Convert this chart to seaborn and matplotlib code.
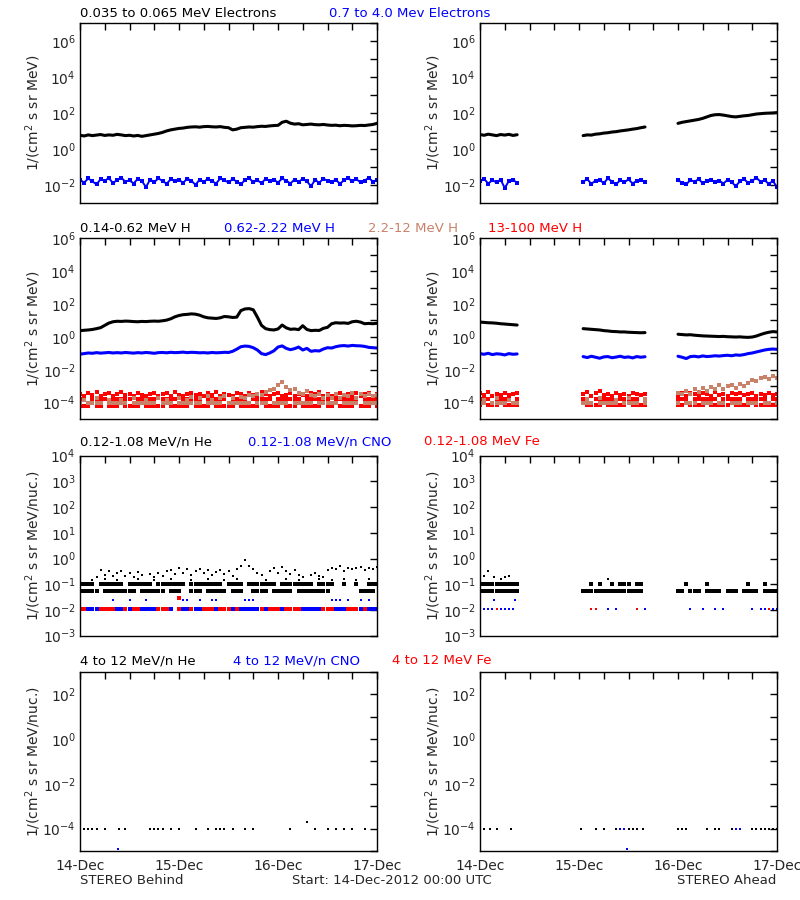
import numpy as np
import pandas as pd
import matplotlib
matplotlib.use("Agg")
import matplotlib.pyplot as plt
import seaborn as sns

BLUE = "#0000ff"
RED = "#ff0000"
BROWN = "#c8826a"

# time axis in hours from 14-Dec-2012 00:00 UTC
hours_b = list(range(73))
hours_a = list(range(0, 10)) + list(range(25, 41)) + list(range(48, 73))
day_labels = ["14-Dec", "15-Dec", "16-Dec", "17-Dec"]

# ---- row 1: electrons (log10 flux) ----
b_e_lo = [0.78, 0.74, 0.80, 0.76, 0.79, 0.82, 0.77, 0.80, 0.78, 0.83, 0.80, 0.76, 0.78, 0.74, 0.77, 0.72, 0.76, 0.80, 0.84, 0.88, 0.94, 1.02, 1.08, 1.12, 1.16,
          1.18, 1.22, 1.24, 1.25, 1.23, 1.26, 1.27, 1.25, 1.24, 1.26, 1.22, 1.20,
          1.08, 1.12, 1.20, 1.22, 1.24, 1.23, 1.26, 1.28, 1.27, 1.30, 1.32, 1.33,
          1.50, 1.56, 1.45, 1.40, 1.42, 1.36, 1.38, 1.40, 1.37, 1.36, 1.38, 1.35,
          1.33, 1.34, 1.31, 1.33, 1.32, 1.30, 1.31, 1.33, 1.32, 1.35, 1.38, 1.44]
b_e_hi = [-1.70, -1.85, -1.62, -1.78, -1.95, -1.66, -1.74, -1.60, -1.88, -1.70, -1.58, -1.80, -1.72, -1.90, -1.64, -1.76, -2.10, -1.68, -1.82, -1.62, -1.75, -1.92, -1.66, -1.78, -1.70,
          -1.86, -1.63, -1.74, -1.98, -1.68, -1.80, -1.65, -1.77, -1.90, -1.62, -1.73, -1.84,
          -1.66, -1.79, -1.95, -1.70, -1.60, -1.83, -1.72, -1.88, -1.64, -1.76, -1.69, -1.85,
          -1.62, -1.74, -1.90, -1.68, -1.80, -1.65, -1.78, -2.05, -1.70, -1.86, -1.63, -1.75,
          -1.82, -1.68, -1.92, -1.72, -1.60, -1.78, -1.66, -1.84, -1.74, -1.58, -1.80, -1.70]
a_e_lo = [0.82, 0.78, 0.84, 0.80, 0.76, 0.82, 0.79, 0.83, 0.77, 0.81,
          0.76, 0.80, 0.79, 0.84, 0.86, 0.90, 0.92, 0.96, 0.98, 1.02, 1.05, 1.08, 1.12, 1.15, 1.20, 1.24,
          1.44, 1.50, 1.54, 1.58, 1.62, 1.66, 1.72, 1.80, 1.88, 1.92, 1.93, 1.90, 1.86, 1.82, 1.80, 1.83,
          1.86, 1.88, 1.92, 1.96, 1.98, 2.00, 2.01, 2.02, 2.04]
a_e_hi = [-1.78, -1.65, -1.90, -1.72, -1.84, -1.68, -2.15, -1.76, -1.70, -1.86,
          -1.80, -1.66, -1.92, -1.74, -1.70, -1.88, -1.62, -1.79, -1.95, -1.71, -1.83, -1.67, -1.90, -1.75, -1.69, -1.82,
          -1.72, -1.85, -1.95, -1.70, -1.80, -1.66, -1.88, -1.76, -1.68, -1.84, -1.74, -1.90, -1.70, -1.82, -2.05, -1.78,
          -1.66, -1.86, -1.75, -1.58, -1.80, -1.72, -1.92, -1.76, -2.10]

# ---- row 2: protons ----
b_h_lo = [0.38, 0.40, 0.42, 0.45, 0.50, 0.56, 0.70, 0.84, 0.92, 0.95,
          0.94, 0.96, 0.95, 0.93, 0.92, 0.94, 0.93, 0.95, 0.96, 0.95,
          0.98, 1.02, 1.10, 1.22, 1.30, 1.35, 1.37, 1.40, 1.38, 1.32,
          1.22, 1.16, 1.14, 1.12, 1.16, 1.24, 1.22, 1.18, 1.20, 1.60,
          1.70, 1.72, 1.65, 1.20, 0.70, 0.50, 0.44, 0.42, 0.48, 0.72,
          0.55, 0.46, 0.48, 0.44, 0.68, 0.45, 0.38, 0.40, 0.39, 0.52,
          0.58, 0.80, 0.86, 0.84, 0.85, 0.82, 0.92, 0.95, 0.90, 0.80,
          0.82, 0.80, 0.83]
b_h_mid = [-1.05, -1.02, -0.98, -1.00, -0.96, -0.99, -0.97, -0.95, -0.98, -0.96,
           -0.98, -0.95, -0.97, -0.99, -0.96, -0.98, -0.95, -0.97, -1.00, -0.96,
           -0.95, -0.97, -0.94, -0.96, -0.95, -0.93, -0.96, -0.94, -0.95, -0.97,
           -0.96, -0.98, -0.95, -0.97, -0.96, -0.94, -0.95, -0.88, -0.75, -0.60,
           -0.56, -0.58, -0.66, -0.80, -1.02, -1.08, -0.98, -0.85, -0.62, -0.55,
           -0.70, -0.78, -0.72, -0.62, -0.80, -0.70, -0.88, -0.84, -0.86, -0.74,
           -0.66, -0.68, -0.60, -0.55, -0.53, -0.56, -0.52, -0.54, -0.55, -0.58,
           -0.64, -0.66, -0.68]
b_hh_top = [None, -3.85, None, None, -3.70, None, None, -3.85, None, None,
            -3.85, None, None, -3.70, None, None, -3.85, None, None, -3.70,
            None, -3.85, None, None, -3.70, None, -3.85, -3.65, None, -3.70,
            None, -3.60, -3.85, None, -3.70, -3.62, None, -3.75, None, -3.65,
            -3.70, -3.55, -3.62, -3.45, -3.55, -3.35, -3.25, -3.15, -2.95, -2.72,
            -3.05, -3.25, -3.15, -3.40, -3.50, -3.30, -3.55, -3.62, -3.45, -3.70,
            -3.55, -3.70, -3.45, -3.75, -3.55, -3.62, -3.40, -3.70, -3.50, -3.60,
            -3.45, -3.60, -3.52]
b_hh_base = [-4.02, None, -4.02, -4.02, -4.02, -4.02, None, -4.02, -4.02, -4.02,
             -4.02, -4.02, None, -4.02, -4.02, -4.02, -4.02, -4.02, -4.02, None,
             -4.02, -4.02, -4.02, None, -4.02, -4.02, -4.02, -4.02, -4.02, -4.02,
             None, -4.02, -4.02, -4.02, -4.02, None, -4.02, -4.02, -4.02, -4.02,
             -4.02, -4.02, None, -4.02, -4.02, -4.02, None, -4.02, -4.02, -4.02,
             -4.02, None, -4.02, -4.02, -4.02, -4.02, -4.02, None, -4.02, -4.02,
             -4.02, -4.02, -4.02, None, -4.02, -4.02, -4.02, -4.02, None, -4.02,
             -4.02, -4.02, -4.02]
b_p_top = [-3.45, -3.58, -3.40, -3.52, -3.36, -3.58, -3.48, -3.42, -3.58, -3.50,
           -3.38, -3.55, -3.45, -3.58, -3.40, -3.52, -3.58, -3.46, -3.40, -3.58,
           -3.50, -3.44, -3.58, -3.38, -3.52, -3.58, -3.45, -3.40, -3.56, -3.48,
           -3.58, -3.42, -3.52, -3.36, -3.58, -3.46, -3.54, -3.58, -3.40, -3.50,
           -3.58, -3.44, -3.52, -3.58, -3.38, -3.50, -3.58, -3.46, -3.42, -3.58,
           -3.52, -3.40, -3.58, -3.48, -3.55, -3.58, -3.44, -3.50, -3.38, -3.58,
           -3.46, -3.58, -3.52, -3.40, -3.58, -3.48, -3.56, -3.42, -3.58, -3.50,
           -3.44, -3.58, -3.48]
b_p_f1 = [-3.78, -3.78, None, -3.78, -3.78, -3.78, -3.78, None, -3.78, -3.78,
          -3.78, -3.78, -3.78, None, -3.78, -3.78, -3.78, -3.78, -3.78, None,
          -3.78, -3.78, -3.78, -3.78, None, -3.78, -3.78, -3.78, -3.78, -3.78,
          None, -3.78, -3.78, -3.78, -3.78, -3.78, None, -3.78, -3.78, -3.78,
          -3.78, None, -3.78, -3.78, -3.78, -3.78, -3.78, None, -3.78, -3.78,
          -3.78, -3.78, -3.78, -3.78, None, -3.78, -3.78, -3.78, -3.78, -3.78,
          -3.78, None, -3.78, -3.78, -3.78, -3.78, -3.78, -3.78, None, -3.78,
          -3.78, -3.78, -3.78]
b_p_f2 = [-4.20, -4.20, -4.20, None, -4.20, -4.20, None, -4.20, -4.20, -4.20,
          None, -4.20, -4.20, -4.20, -4.20, None, -4.20, -4.20, -4.20, -4.20,
          -4.20, None, -4.20, -4.20, -4.20, -4.20, -4.20, None, -4.20, -4.20,
          -4.20, -4.20, None, -4.20, -4.20, -4.20, -4.20, -4.20, None, -4.20,
          -4.20, -4.20, -4.20, -4.20, None, -4.20, -4.20, -4.20, -4.20, None,
          -4.20, -4.20, -4.20, None, -4.20, -4.20, -4.20, -4.20, -4.20, None,
          -4.20, -4.20, None, -4.20, -4.20, -4.20, -4.20, None, -4.20, -4.20,
          -4.20, None, -4.20]

a_h_lo = [0.90, 0.88, 0.86, 0.85, 0.83, 0.80, 0.78, 0.76, 0.74, 0.72,
          0.50, 0.48, 0.46, 0.44, 0.42, 0.38, 0.36, 0.33, 0.32, 0.30, 0.30, 0.28, 0.27, 0.26, 0.25, 0.26,
          0.16, 0.14, 0.12, 0.13, 0.10, 0.08, 0.06, 0.05, 0.04, 0.03, 0.02, 0.03, 0.01, 0.00, -0.01, 0.00,
          -0.02, -0.03, -0.01, 0.05, 0.14, 0.22, 0.28, 0.32, 0.30]
a_h_mid = [-1.02, -1.06, -1.00, -1.08, -1.03, -1.05, -1.10, -1.02, -1.06, -1.04,
           -1.20, -1.26, -1.18, -1.24, -1.30, -1.22, -1.20, -1.27, -1.23, -1.18, -1.25, -1.22, -1.28, -1.20, -1.24, -1.21,
           -1.18, -1.24, -1.32, -1.20, -1.18, -1.22, -1.16, -1.20, -1.18, -1.15, -1.17, -1.14, -1.12, -1.15, -1.10, -1.12,
           -1.08, -1.02, -0.98, -0.92, -0.86, -0.80, -0.76, -0.74, -0.76]
a_hh_top = [None, -3.85, None, None, -3.70, None, None, -3.85, None, None,
            None, -3.80, None, None, -3.70, None, None, None, -3.85, None, None, -3.75, None, None, None, -3.80,
            -3.40, -3.50, -3.30, -3.45, -3.20, -3.35, -3.10, -3.30, -3.05, -3.20, -2.95, -3.15, -3.00, -2.90, -3.10, -2.85,
            -3.00, -2.80, -2.60, -2.70, -2.50, -2.45, -2.55, -2.40, -2.50]
a_hh_base = [-4.02, -4.02, None, -4.02, -4.02, -4.02, -4.02, None, -4.02, -4.02,
             -4.02, -4.02, -4.02, None, -4.02, -4.02, -4.02, -4.02, -4.02, None, -4.02, -4.02, -4.02, -4.02, None, -4.02,
             -4.02, None, -4.02, -4.02, -4.02, None, -4.02, -4.02, -4.02, None, -4.02, -4.02, None, -4.02, -4.02, -4.02,
             None, -4.02, -4.02, -4.02, None, -4.02, -4.02, None, -4.02]
a_p_top = [-3.42, -3.55, -3.38, -3.58, -3.46, -3.52, -3.40, -3.56, -3.48, -3.44,
           -3.50, -3.36, -3.58, -3.44, -3.30, -3.52, -3.46, -3.58, -3.40, -3.54, -3.48, -3.58, -3.42, -3.50, -3.56, -3.46,
           -3.52, -3.44, -3.58, -3.40, -3.50, -3.56, -3.42, -3.48, -3.58, -3.38, -3.52, -3.46, -3.58, -3.44, -3.50, -3.40,
           -3.56, -3.48, -3.42, -3.58, -3.46, -3.52, -3.40, -3.56, -3.48]
a_p_f1 = [-3.78, -3.78, -3.78, None, -3.78, -3.78, -3.78, -3.78, None, -3.78,
          -3.78, -3.78, None, -3.78, -3.78, -3.78, -3.78, -3.78, None, -3.78, -3.78, -3.78, -3.78, -3.78, None, -3.78,
          -3.78, -3.78, -3.78, None, -3.78, -3.78, -3.78, -3.78, -3.78, -3.78, None, -3.78, -3.78, -3.78, -3.78, -3.78,
          None, -3.78, -3.78, -3.78, -3.78, -3.78, None, -3.78, -3.78]
a_p_f2 = [-4.16, None, -4.16, -4.16, -4.16, None, -4.16, -4.16, -4.16, -4.16,
          None, -4.16, -4.16, -4.16, -4.16, None, -4.16, -4.16, -4.16, -4.16, -4.16, None, -4.16, -4.16, -4.16, -4.16,
          -4.16, -4.16, None, -4.16, -4.16, -4.16, -4.16, None, -4.16, -4.16, -4.16, -4.16, -4.16, None, -4.16, -4.16,
          -4.16, -4.16, None, -4.16, -4.16, -4.16, -4.16, -4.16, -4.16]

# ---- row 3: 0.12-1.08 MeV/n ions ----
b_he_01 = [-1.00, -1.00, -1.00, -1.00, None, -1.00, -1.00, -1.00, -1.00, -1.00,
           -1.00, None, -1.00, -1.00, -1.00, -1.00, -1.00, -1.00, None, -1.00,
           -1.00, -1.00, -1.00, -1.00, -1.00, -1.00, None, -1.00, -1.00, -1.00,
           -1.00, -1.00, -1.00, -1.00, -1.00, None, -1.00, -1.00, -1.00, -1.00,
           None, -1.00, -1.00, -1.00, -1.00, -1.00, -1.00, -1.00, None, -1.00,
           -1.00, -1.00, -1.00, -1.00, -1.00, -1.00, -1.00, None, -1.00, -1.00,
           -1.00, -1.00, None, None, -1.00, None, None, -1.00, None, None,
           -1.00, -1.00, -1.00]
b_he_005 = [-1.27, -1.27, -1.27, -1.27, -1.27, None, -1.27, -1.27, -1.27, -1.27,
            -1.27, -1.27, -1.27, -1.27, None, -1.27, -1.27, -1.27, -1.27, -1.27,
            -1.27, None, -1.27, -1.27, -1.27, None, None, -1.27, -1.27, -1.27,
            None, -1.27, -1.27, -1.27, -1.27, -1.27, None, -1.27, -1.27, -1.27,
            None, None, -1.27, -1.27, -1.27, -1.27, None, -1.27, -1.27, -1.27,
            -1.27, -1.27, None, -1.27, -1.27, -1.27, -1.27, -1.27, -1.27, -1.27,
            -1.27, None, None, None, None, None, None, None, -1.27, -1.27,
            -1.27, -1.27, None]
b_he_up = [None, None, None, None, -0.70, -0.45, -0.62, -0.50, -0.68, -0.55,
           -0.48, -0.66, -0.58, -0.72, -0.52, -0.64, None, -0.60, -0.70, -0.56,
           -0.66, -0.50, -0.45, -0.60, -0.38, -0.55, -0.42, -0.62, -0.48, -0.40,
           -0.58, -0.46, -0.64, -0.52, -0.44, -0.60, -0.50, -0.66, -0.42, -0.30,
           -0.05, -0.28, -0.40, -0.56, -0.64, None, -0.50, -0.38, -0.55, -0.32,
           -0.48, -0.60, -0.45, -0.65, -0.70, None, -0.62, -0.58, -0.66, -0.70,
           -0.45, -0.36, -0.40, -0.30, -0.48, -0.35, -0.42, -0.38, -0.32, -0.44,
           -0.36, -0.40, -0.34]
b_he_mid_hours = [3, 6, 9, 14, 18, 22, 27, 31, 35, 38, 45, 50, 53, 58, 61, 64, 67, 70]
b_he_mid = [-0.82, -0.80, -0.84, -0.80, -0.82, -0.78, -0.82, -0.80, -0.84, -0.80, -0.82, -0.78, -0.82, -0.80, -0.84, -0.80, -0.82, -0.80]
b_cno_01 = [-1.95, -1.95, -1.95, -1.95, -1.95, -1.95, -1.95, -1.95, -1.95, -1.95,
            -1.95, -1.95, -1.95, -1.95, -1.95, -1.95, -1.95, -1.95, -1.95, -1.95,
            -1.95, -1.95, -1.95, None, -1.95, -1.95, -1.95, -1.95, -1.95, -1.95,
            -1.95, -1.95, -1.95, -1.95, -1.95, -1.95, -1.95, -1.95, -1.95, -1.95,
            -1.95, -1.95, -1.95, -1.95, -1.95, -1.95, -1.95, -1.95, -1.95, -1.95,
            -1.95, -1.95, -1.95, -1.95, -1.95, -1.95, -1.95, -1.95, -1.95, -1.95,
            -1.95, -1.95, -1.95, -1.95, -1.95, -1.95, -1.95, -1.95, -1.95, -1.95,
            -1.95, -1.95, -1.95]
b_cno_up_hours = [8, 12, 16, 25, 26, 29, 32, 33, 40, 41, 42, 61, 62, 63, 65, 68, 70]
b_cno_up = [-1.62, -1.62, -1.62, -1.62, -1.62, -1.62, -1.62, -1.62, -1.62, -1.62, -1.62, -1.62, -1.62, -1.62, -1.62, -1.62, -1.62]
b_fe_hours = [0, 1, 5, 6, 7, 8, 11, 13, 14, 19, 20, 21, 24, 27, 30, 31, 32, 34, 35, 36, 38, 44, 46, 47, 48, 50, 51, 52, 53, 59, 60, 61, 65, 66, 67, 69, 24]
b_fe = [-1.95, -1.95, -1.95, -1.95, -1.95, -1.95, -1.95, -1.95, -1.95, -1.95, -1.95, -1.95, -1.95, -1.95, -1.95, -1.95, -1.95, -1.95, -1.95,
        -1.95, -1.95, -1.95, -1.95, -1.95, -1.95, -1.95, -1.95, -1.95, -1.95, -1.95, -1.95, -1.95, -1.95, -1.95, -1.95, -1.95, -1.55]

a_he_01 = [-1.00, -1.00, -1.00, -1.00, -1.00, -1.00, -1.00, -1.00, -1.00, -1.00,
           None, None, -1.00, None, -1.00, None, None, -1.00, None, -1.00, -1.00, -1.00, None, -1.00, -1.00, None,
           None, None, -1.00, None, None, None, None, -1.00, None, None, None, None, None, None, None, None,
           None, -1.00, None, None, None, -1.00, None, None, None]
a_he_005 = [-1.27, -1.27, -1.27, -1.27, -1.27, -1.27, -1.27, -1.27, -1.27, -1.27,
            -1.27, -1.27, -1.27, -1.27, -1.27, -1.27, -1.27, -1.27, -1.27, -1.27, -1.27, -1.27, -1.27, -1.27, -1.27, None,
            -1.27, -1.27, None, -1.27, -1.27, -1.27, None, -1.27, -1.27, -1.27, -1.27, None, -1.27, -1.27, -1.27, None,
            -1.27, -1.27, -1.27, -1.27, None, -1.27, -1.27, -1.27, -1.27]
a_he_up_hours = [1, 2, 3.5, 5, 6, 7, 31]
a_he_up = [-0.67, -0.47, -0.70, -0.80, -0.72, -0.67, -0.80]
a_cno_hours = [1, 2, 3, 4, 5, 6, 7, 8, 31, 33, 40, 51, 54, 57, 59, 66, 68, 69, 70, 71, 72, 3.5, 8.5]
a_cno = [-1.95, -1.95, -1.95, -1.95, -1.95, -1.95, -1.95, -1.95, -1.95, -1.95, -1.95, -1.95, -1.95, -1.95, -1.95, -1.95,
         -1.95, -1.95, -1.95, -1.95, -1.95, -1.62, -1.62]
a_fe_hours = [0, 4, 27, 28, 38, 70]
a_fe = [-1.95, -1.95, -1.95, -1.95, -1.95, -1.95]

# ---- row 4: 4-12 MeV/n ions ----
b_he4_hours = [1, 2, 3, 4, 6, 9.5, 11, 17, 18, 19, 20, 22, 24, 28, 31, 33, 34, 35, 37, 40, 42, 51, 55, 57, 60, 62, 64, 66, 69]
b_he4 = [-4.0, -4.0, -4.0, -4.0, -4.0, -4.0, -4.0, -4.0, -4.0, -4.0, -4.0, -4.0, -4.0, -4.0, -4.0, -4.0, -4.0, -4.0, -4.0, -4.0,
         -4.0, -4.0, -3.70, -4.0, -4.0, -4.0, -4.0, -4.0, -4.0]
b_cno4_hours = [9.3]
b_cno4 = [-4.92]
a_he4_hours = [1, 2.5, 4, 7.5, 24.5, 28, 30, 33, 36, 37, 38, 39.5, 48, 49, 50, 55, 57, 58, 61, 66, 67, 68, 69, 70, 71, 72]
a_he4 = [-4.0, -4.0, -4.0, -4.0, -4.0, -4.0, -4.0, -4.0, -4.0, -4.0, -4.0, -4.0, -4.0, -4.0, -4.0, -4.0, -4.0, -4.0, -4.0,
         -4.0, -4.0, -4.0, -4.0, -4.0, -4.0, -4.0]
a_cno4_hours = [34, 35, 62, 63, 35.6]
a_cno4 = [-4.0, -4.0, -4.0, -4.0, -4.92]


def frame(hours, logs):
    df = pd.DataFrame({"hour": np.asarray(hours, float),
                       "flux": 10 ** np.asarray(logs, float)})
    df["seg"] = (df["hour"].diff() > 1.5).cumsum() + df["flux"].isna().cumsum()
    return df.dropna()


def trace(ax, hours, logs, color, lw, **kw):
    sns.lineplot(data=frame(hours, logs), x="hour", y="flux", units="seg",
                 estimator=None, sort=False, color=color, lw=lw, ax=ax,
                 legend=False, **kw)


def dots(ax, hours, logs, color, s=5):
    sns.scatterplot(data=frame(hours, logs), x="hour", y="flux", color=color,
                    marker="s", s=s, linewidth=0, ax=ax, legend=False)


sns.set_style("white")
plt.rcParams["font.family"] = ["DejaVu Sans"]
plt.rcParams["mathtext.default"] = "regular"

fig = plt.figure(figsize=(8, 9), dpi=100)

rows_px = [(23.3, 203.3), (238.3, 419.0), (455.7, 635.7), (671.7, 851.0)]
yrange = [(-3, 7), (-5, 6), (-3, 4), (-5, 3)]
ylabeled = [[-2, 0, 2, 4, 6], [-4, -2, 0, 2, 4, 6], [-3, -2, -1, 0, 1, 2, 3, 4], [-4, -2, 0, 2]]
ylabels = ["1/(cm$^2$ s sr MeV)", "1/(cm$^2$ s sr MeV)",
           "1/(cm$^2$ s sr MeV/nuc.)", "1/(cm$^2$ s sr MeV/nuc.)"]

axes = []
for r, (top, bot) in enumerate(rows_px):
    row = []
    for c in range(2):
        ax = fig.add_axes([(80 + 400 * c) / 800, 1 - bot / 900, 297 / 800, (bot - top) / 900])
        ax.set_yscale("log")
        row.append(ax)
    axes.append(row)

# row 1
trace(axes[0][0], hours_b, b_e_lo, "black", 2.2)
trace(axes[0][0], hours_b, b_e_hi, BLUE, 1.4, marker="s", markersize=2.5, mew=0)
trace(axes[0][1], hours_a, a_e_lo, "black", 2.2)
trace(axes[0][1], hours_a, a_e_hi, BLUE, 1.4, marker="s", markersize=2.5, mew=0)

# row 2
for ax, lo, mid, hh_top, hh_base, p_top, p_f1, p_f2, hrs in [
        (axes[1][0], b_h_lo, b_h_mid, b_hh_top, b_hh_base, b_p_top, b_p_f1, b_p_f2, hours_b),
        (axes[1][1], a_h_lo, a_h_mid, a_hh_top, a_hh_base, a_p_top, a_p_f1, a_p_f2, hours_a)]:
    dots(ax, hrs, p_f2, RED)
    dots(ax, hrs, hh_base, BROWN)
    dots(ax, hrs, p_f1, RED)
    dots(ax, hrs, p_top, RED)
    dots(ax, hrs, hh_top, BROWN)
    trace(ax, hrs, lo, "black", 2.2)
    trace(ax, hrs, mid, BLUE, 2.2)

# row 3
ax = axes[2][0]
dots(ax, hours_b, b_cno_01, BLUE)
dots(ax, b_fe_hours, b_fe, RED)
dots(ax, b_cno_up_hours, b_cno_up, BLUE, s=4)
dots(ax, hours_b, b_he_005, "black")
dots(ax, hours_b, b_he_01, "black")
dots(ax, b_he_mid_hours, b_he_mid, "black", s=3)
dots(ax, hours_b, b_he_up, "black", s=3)
ax = axes[2][1]
dots(ax, a_cno_hours, a_cno, BLUE, s=4)
dots(ax, a_fe_hours, a_fe, RED, s=4)
dots(ax, hours_a, a_he_005, "black")
dots(ax, hours_a, a_he_01, "black")
dots(ax, a_he_up_hours, a_he_up, "black", s=3)

# row 4
dots(axes[3][0], b_he4_hours, b_he4, "black", s=2)
dots(axes[3][0], b_cno4_hours, b_cno4, BLUE, s=3)
dots(axes[3][1], a_he4_hours, a_he4, "black", s=2)
dots(axes[3][1], a_cno4_hours, a_cno4, BLUE, s=3)

for r in range(4):
    lo, hi = yrange[r]
    exps = list(range(lo, hi + 1))
    for c in range(2):
        ax = axes[r][c]
        ax.set_xlim(0, 72)
        ax.set_ylim(10.0 ** lo, 10.0 ** hi)
        ax.set_yticks([10.0 ** k for k in exps],
                      [f"10$^{{{k}}}$" if k in ylabeled[r] else "" for k in exps])
        ax.yaxis.set_minor_locator(matplotlib.ticker.NullLocator())
        ax.set_xticks([0, 24, 48, 72], day_labels if r == 3 else ["", "", "", ""])
        ax.set_xticks(list(range(0, 73, 6)), minor=True)
        ax.tick_params(which="both", direction="in", top=True, right=True,
                       length=5, width=1, color="black", labelsize=10)
        ax.tick_params(axis="y", pad=3)
        ax.tick_params(axis="x", pad=6)
        ax.set_xlabel("")
        ax.set_ylabel(ylabels[r], fontsize=10)
        ax.yaxis.set_label_coords(-0.125, 0.5)
        for sp in ax.spines.values():
            sp.set_color("black")
            sp.set_linewidth(1)

titles = [
    [(80, 13.3, "0.035 to 0.065 MeV Electrons", "black"), (329, 13.3, "0.7 to 4.0 Mev Electrons", BLUE)],
    [(80, 229, "0.14-0.62 MeV H", "black"), (224, 229, "0.62-2.22 MeV H", BLUE),
     (368, 229, "2.2-12 MeV H", BROWN), (488, 229, "13-100 MeV H", RED)],
    [(80, 442, "0.12-1.08 MeV/n He", "black"), (248, 442, "0.12-1.08 MeV/n CNO", BLUE),
     (424, 442, "0.12-1.08 MeV Fe", RED)],
    [(80, 661, "4 to 12 MeV/n He", "black"), (233, 661, "4 to 12 MeV/n CNO", BLUE),
     (392, 661, "4 to 12 MeV Fe", RED)],
]
for row in titles:
    for x, y, txt, col in row:
        fig.text(x / 800, 1 - y / 900, txt, color=col, fontsize=9.5, ha="left", va="center")

fig.text(80 / 800, 1 - 881 / 900, "STEREO Behind", fontsize=9.5, ha="left", va="center")
fig.text(292 / 800, 1 - 881 / 900, "Start: 14-Dec-2012 00:00 UTC", fontsize=9.5, ha="left", va="center")
fig.text(776 / 800, 1 - 881 / 900, "STEREO Ahead", fontsize=9.5, ha="right", va="center")

fig.savefig("out.png", dpi=100, facecolor="white")
